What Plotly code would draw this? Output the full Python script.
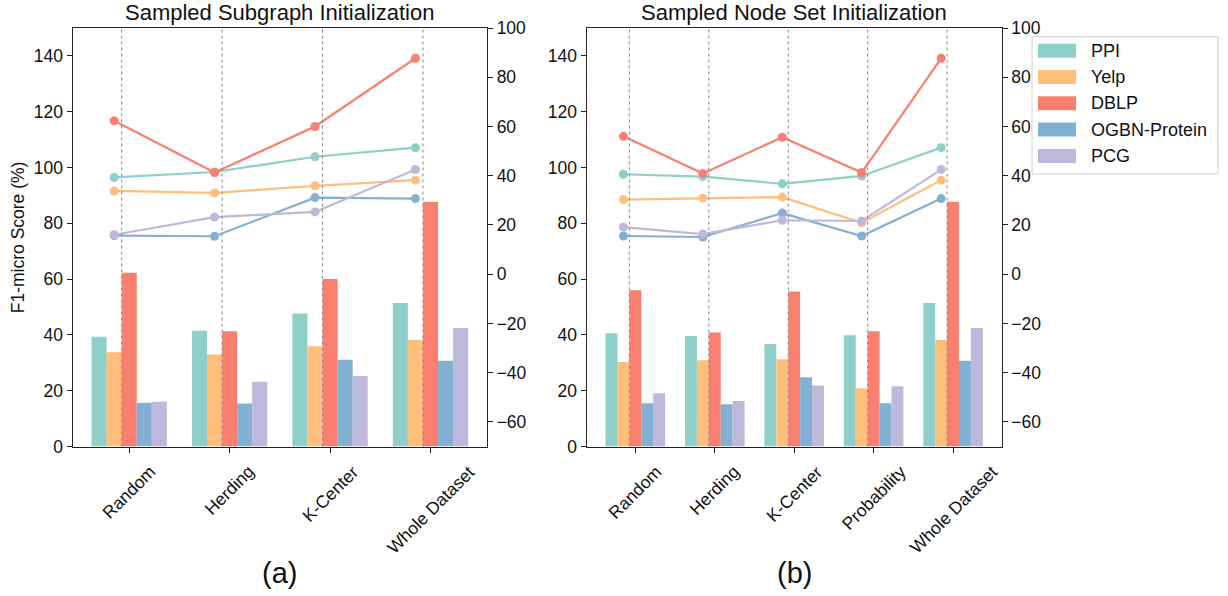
import plotly.graph_objects as go

# ---------------- data ----------------
methods_a = ["Random", "Herding", "K-Center", "Whole Dataset"]
methods_b = ["Random", "Herding", "K-Center", "Probability", "Whole Dataset"]
datasets = ["PPI", "Yelp", "DBLP", "OGBN-Protein", "PCG"]

ppi_a = [39.3, 41.5, 47.7, 51.4]
yelp_a = [33.8, 33.0, 35.9, 38.2]
dblp_a = [62.3, 41.3, 60.0, 87.7]
ogbn_a = [15.7, 15.4, 31.1, 30.7]
pcg_a = [16.0, 23.2, 25.3, 42.5]

ppi_b = [40.6, 39.6, 36.7, 39.9, 51.4]
yelp_b = [30.3, 30.9, 31.3, 20.9, 38.2]
dblp_b = [56.0, 40.9, 55.6, 41.3, 87.7]
ogbn_b = [15.5, 15.1, 24.8, 15.5, 30.7]
pcg_b = [19.1, 16.3, 21.9, 21.6, 42.5]

left_ticks = [0, 20, 40, 60, 80, 100, 120, 140]
right_ticks = [-60, -40, -20, 0, 20, 40, 60, 80, 100]

colors = ["#8ECFC9", "#FFBE7A", "#FA7F6F", "#82B0D2", "#BEB8DC"]

W, H = 1228, 596
FONT = "Liberation Sans, Arial, sans-serif"
BW = 0.15
TICK_FS = 17.5

fig = go.Figure()

panels = [
    dict(methods=methods_a, series=[ppi_a, yelp_a, dblp_a, ogbn_a, pcg_a],
         x="x", yl="y", yr="y2", title="Sampled Subgraph Initialization", tag="(a)"),
    dict(methods=methods_b, series=[ppi_b, yelp_b, dblp_b, ogbn_b, pcg_b],
         x="x2", yl="y3", yr="y4", title="Sampled Node Set Initialization", tag="(b)"),
]

for p in panels:
    n = len(p["methods"])
    idx = list(range(n))
    for k, (name, vals) in enumerate(zip(datasets, p["series"])):
        fig.add_trace(go.Bar(
            x=[i + (k - 2) * BW for i in idx], y=vals, width=BW,
            marker=dict(color=colors[k], line=dict(width=0)),
            name=name, showlegend=False, xaxis=p["x"], yaxis=p["yl"]))
    for k, (name, vals) in enumerate(zip(datasets, p["series"])):
        fig.add_trace(go.Scatter(
            x=[i - BW for i in idx], y=vals, mode="lines+markers",
            line=dict(color=colors[k], width=2.2),
            marker=dict(color=colors[k], size=9),
            name=name, showlegend=False, xaxis=p["x"], yaxis=p["yr"]))

# ---------------- layout ----------------
ydom = [1 - 446.5 / H, 1 - 28 / H]
dom_a = [72.7 / W, 487 / W]
dom_b = [586.7 / W, 1001.7 / W]

axis_common = dict(showgrid=False, zeroline=False, showline=True, linecolor="#222",
                   linewidth=1.3, ticks="outside", ticklen=5, tickcolor="#222",
                   automargin=False,
                   tickfont=dict(family=FONT, size=TICK_FS, color="#111"))

def xax(dom, n, anchor):
    half = 0.375 + 0.05 * (n - 1 + 0.75)
    return dict(axis_common, domain=dom, range=[-half, n - 1 + half], anchor=anchor,
                tickvals=list(range(n)), showticklabels=False, mirror=True)

fig.update_layout(
    width=W, height=H, margin=dict(l=0, r=0, t=0, b=0, autoexpand=False),
    paper_bgcolor="white", plot_bgcolor="white",
    barmode="overlay", showlegend=False,
    font=dict(family=FONT, color="#111"),
    xaxis=xax(dom_a, len(methods_a), "y"),
    xaxis2=xax(dom_b, len(methods_b), "y3"),
    yaxis=dict(axis_common, domain=ydom, range=[0, 150], tickvals=left_ticks, anchor="x"),
    yaxis2=dict(axis_common, range=[-70, 100], tickvals=right_ticks, overlaying="y",
                side="right", anchor="x"),
    yaxis3=dict(axis_common, domain=ydom, range=[0, 150], tickvals=left_ticks, anchor="x2"),
    yaxis4=dict(axis_common, range=[-70, 100], tickvals=right_ticks, overlaying="y3",
                side="right", anchor="x2"),
)

shapes = []
annotations = []
for p, dom in zip(panels, [dom_a, dom_b]):
    n = len(p["methods"])
    xr = p["x"]
    for i in range(n):
        shapes.append(dict(type="line", xref=xr, yref=p["yl"] + " domain",
                           x0=i - BW / 2, x1=i - BW / 2, y0=0, y1=1,
                           line=dict(color="#888", width=1, dash="dot"), layer="above"))
        annotations.append(dict(text=p["methods"][i], xref=xr, yref="paper",
                                x=i, y=1 - 459 / H, xanchor="center", yanchor="top",
                                textangle=-45, showarrow=False,
                                font=dict(family=FONT, size=TICK_FS, color="#111")))
    cx = (dom[0] + dom[1]) / 2
    annotations.append(dict(text=p["title"], xref="paper", yref="paper", x=cx, y=1 - 13 / H,
                            xanchor="center", yanchor="middle", showarrow=False,
                            font=dict(family=FONT, size=22, color="#111")))
    annotations.append(dict(text=p["tag"], xref="paper", yref="paper", x=cx, y=1 - 573 / H,
                            xanchor="center", yanchor="middle", showarrow=False,
                            font=dict(family=FONT, size=29, color="#111")))

# y-axis title
annotations.append(dict(text="F1-micro Score (%)", xref="paper", yref="paper",
                        x=18 / W, y=(ydom[0] + ydom[1]) / 2, xanchor="center", yanchor="middle",
                        textangle=-90, showarrow=False,
                        font=dict(family=FONT, size=TICK_FS, color="#111")))

# legend (drawn manually to mimic wide patches)
shapes.append(dict(type="rect", xref="paper", yref="paper",
                   x0=1032 / W, x1=1218 / W, y0=1 - 174 / H, y1=1 - 36.7 / H,
                   line=dict(color="#d0d0d0", width=1), fillcolor="white", layer="above"))
row0, dy = 50.7, 26.3
for k, name in enumerate(datasets):
    yc = row0 + k * dy
    shapes.append(dict(type="rect", xref="paper", yref="paper",
                       x0=1038 / W, x1=1076 / W, y0=1 - (yc + 7) / H, y1=1 - (yc - 7) / H,
                       line=dict(width=0), fillcolor=colors[k], layer="above"))
    annotations.append(dict(text=name, xref="paper", yref="paper", x=1089 / W, y=1 - yc / H,
                            xanchor="left", yanchor="middle", showarrow=False,
                            font=dict(family=FONT, size=18, color="#111")))

fig.update_layout(shapes=shapes, annotations=annotations)

fig.write_html("out.html")
